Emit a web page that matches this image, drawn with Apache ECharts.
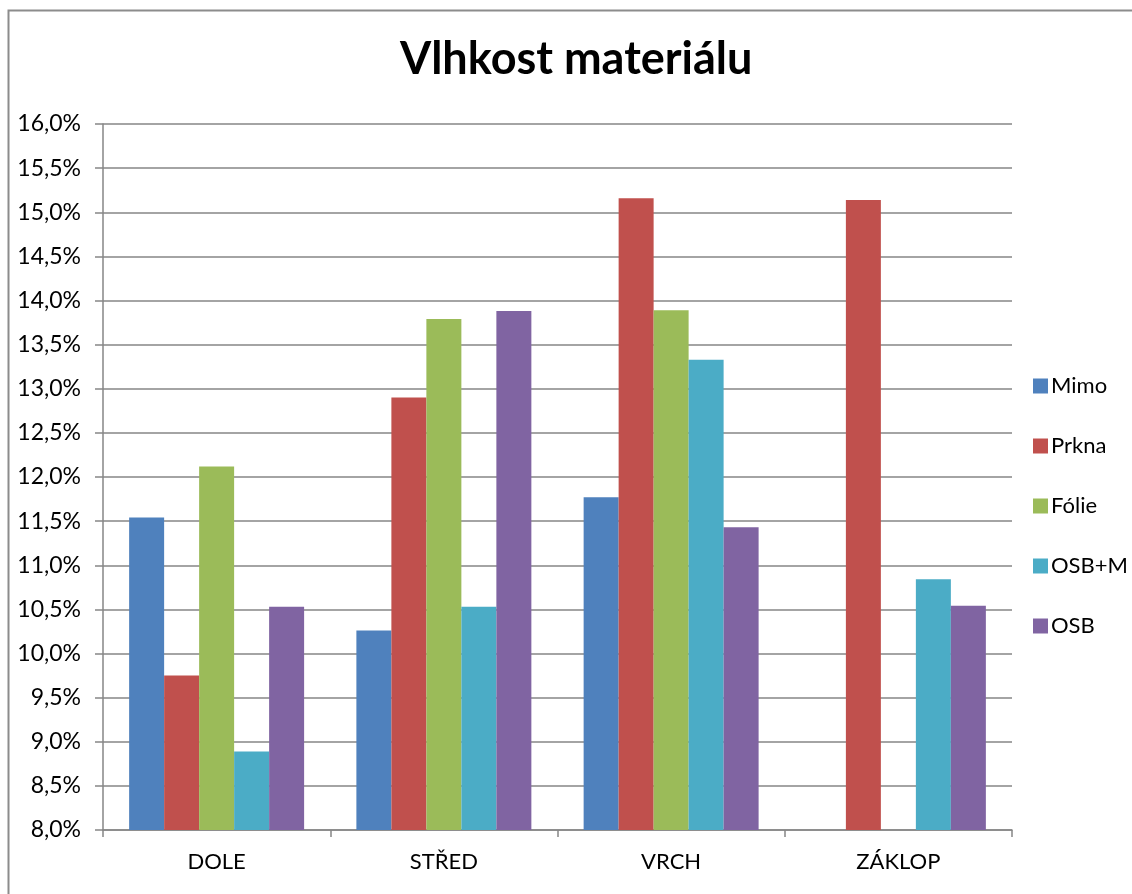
<!DOCTYPE html>
<html>
<head>
<meta charset="utf-8">
<script src="https://cdn.jsdelivr.net/npm/echarts@6/dist/echarts.min.js"></script>
<style>
  html, body { margin: 0; padding: 0; background: #fff; }
  #chart { width: 1132px; height: 894px; }
</style>
</head>
<body>
<div id="chart"></div>
<script>
// Moisture content of materials by position (%)
const categories = ['DOLE', 'STŘED', 'VRCH', 'ZÁKLOP'];
const mimo  = [11.54, 10.26, 11.77, null];
const prkna = [9.75, 12.90, 15.16, 15.14];
const folie = [12.12, 13.79, 13.89, null];
const osbM  = [8.89, 10.53, 13.33, 10.84];
const osb   = [10.53, 13.88, 11.43, 10.54];

const seriesNames = ['Mimo', 'Prkna', 'Fólie', 'OSB+M', 'OSB'];
const seriesData = [mimo, prkna, folie, osbM, osb];
const colors = ['#4F81BD', '#C0504D', '#9BBB59', '#4BACC6', '#8064A2'];

const font = 'Lato, "Open Sans", sans-serif';

const chart = echarts.init(document.getElementById('chart'), null, { renderer: 'canvas' });

chart.setOption({
  animation: false,
  backgroundColor: '#fff',
  color: colors,
  title: {
    text: 'Vlhkost materiálu',
    left: 395,
    top: 32,
    textStyle: { fontFamily: font, fontSize: 45, fontWeight: 'bold', color: '#000' }
  },
  graphic: [{
    type: 'rect',
    shape: { x: 8.5, y: 10.5, width: 1200, height: 1000 },
    style: { fill: 'none', stroke: '#8c8c8c', lineWidth: 2 },
    silent: true
  }],
  legend: {
    orient: 'vertical',
    left: 1028,
    top: 370,
    itemWidth: 15,
    itemHeight: 15,
    itemGap: 38,
    icon: 'rect',
    textStyle: { fontFamily: font, fontSize: 22, lineHeight: 20, color: '#000', padding: [0, 0, 0, -2] },
    data: seriesNames
  },
  grid: { left: 103, right: 120, top: 124, bottom: 64 },
  xAxis: {
    type: 'category',
    data: categories,
    axisLine: { lineStyle: { color: '#868686', width: 1.5 } },
    axisTick: { show: true, length: 7, lineStyle: { color: '#868686', width: 1.5 } },
    axisLabel: { fontFamily: font, fontSize: 22, color: '#000', margin: 21 }
  },
  yAxis: {
    type: 'value',
    min: 8,
    max: 16,
    interval: 0.5,
    axisLine: { show: true, lineStyle: { color: '#868686', width: 1.5 } },
    axisTick: { show: true, length: 8, lineStyle: { color: '#868686', width: 1.5 } },
    splitLine: { show: true, lineStyle: { color: '#868686', width: 1.5 } },
    axisLabel: {
      fontFamily: font, fontSize: 23, color: '#000', margin: 22,
      formatter: v => v.toFixed(1).replace('.', ',') + '%'
    }
  },
  series: seriesNames.map((name, i) => ({
    name,
    type: 'bar',
    data: seriesData[i],
    barGap: '0%',
    barCategoryGap: '23%',
    itemStyle: { color: colors[i] }
  }))
});
</script>
</body>
</html>
